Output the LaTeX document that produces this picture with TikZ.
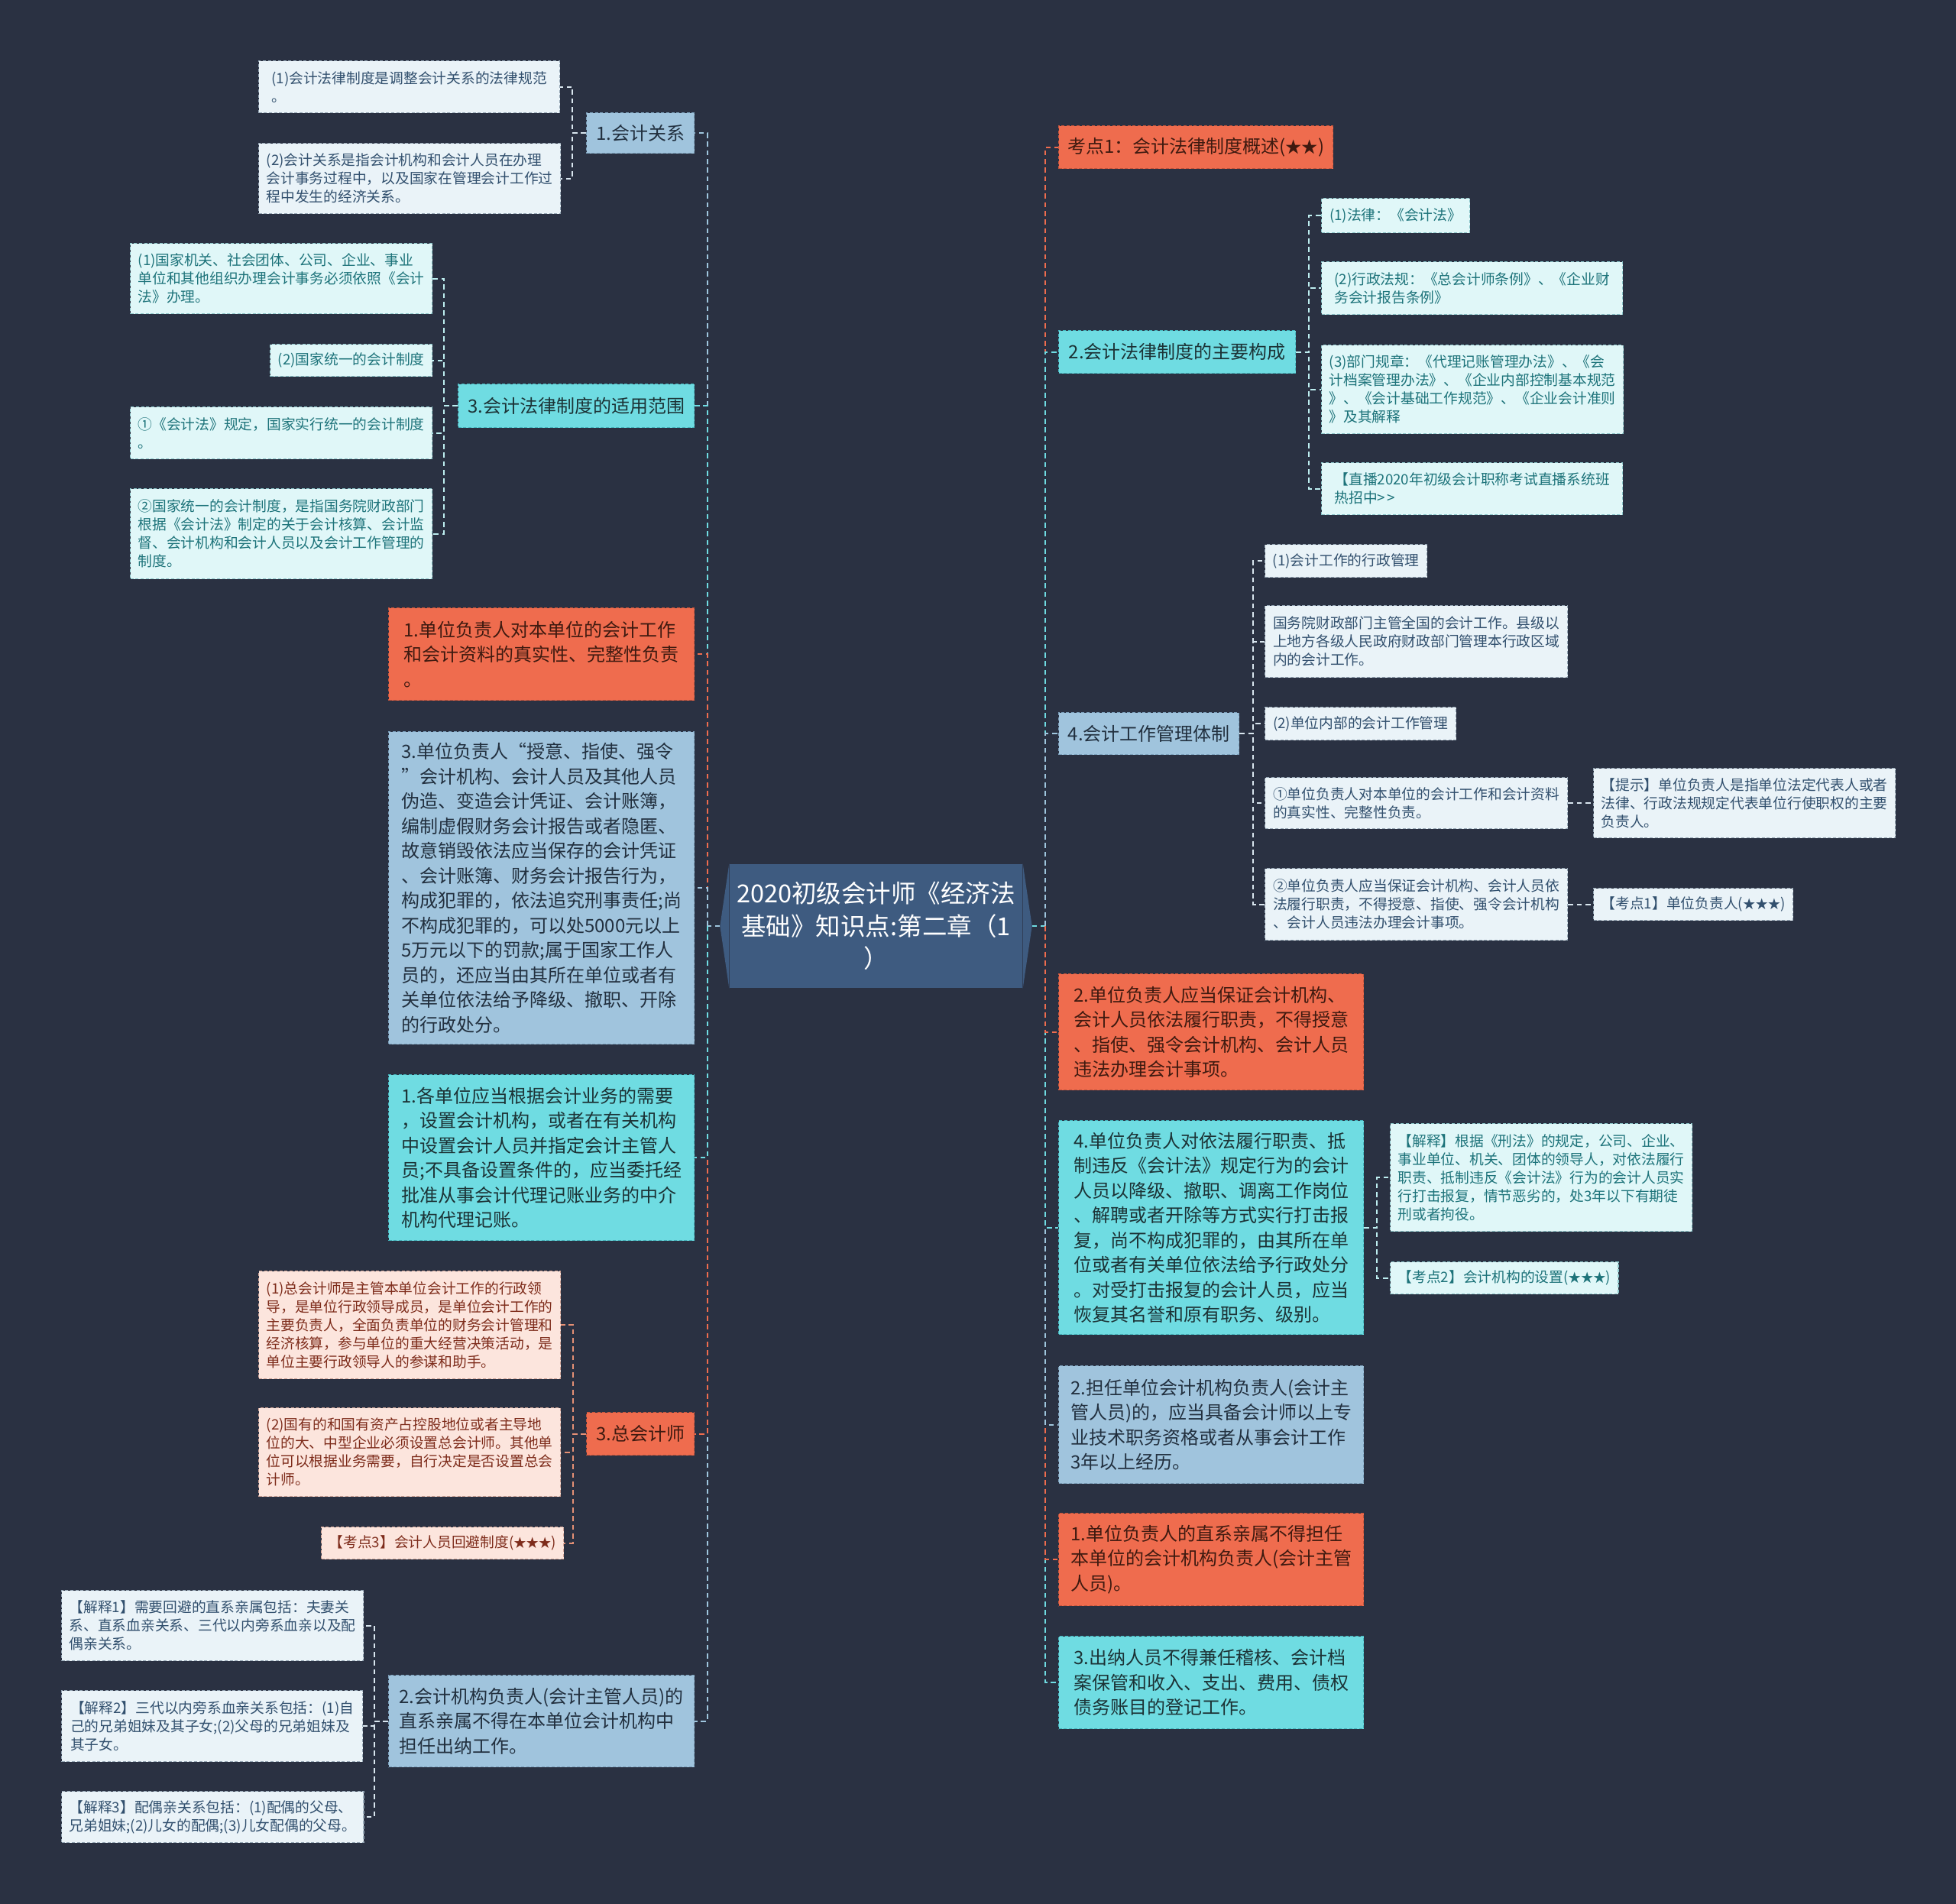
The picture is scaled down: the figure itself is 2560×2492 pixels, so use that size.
\documentclass[tikz,border=0pt]{standalone}
\usepackage{fontspec}
\setmainfont{Noto Sans CJK SC}
\definecolor{bg}{HTML}{2A3142}
\definecolor{cOr}{HTML}{EF6C4E}
\definecolor{cOrB}{HTML}{C4553C}
\definecolor{tOr}{HTML}{3F1A10}
\definecolor{cBl}{HTML}{A0C4DD}
\definecolor{cBlB}{HTML}{7B9FBA}
\definecolor{tBl}{HTML}{22303F}
\definecolor{cCy}{HTML}{6FDCE2}
\definecolor{cCyB}{HTML}{45B5BD}
\definecolor{tCy}{HTML}{1C3336}
\definecolor{cCt}{HTML}{3E5B80}
\definecolor{lBl}{HTML}{EAF3F8}
\definecolor{lBlB}{HTML}{95A6B5}
\definecolor{tlBl}{HTML}{32506E}
\definecolor{lCy}{HTML}{E0F7F8}
\definecolor{lCyB}{HTML}{8CC6CA}
\definecolor{tlCy}{HTML}{1D737A}
\definecolor{lPe}{HTML}{FCE5DD}
\definecolor{lPeB}{HTML}{CFA295}
\definecolor{tlPe}{HTML}{7E2C1B}
\definecolor{kBl}{HTML}{9FC6DE}
\definecolor{kCy}{HTML}{6FDCE2}
\definecolor{kOr}{HTML}{EF6C4E}
\definecolor{kLB}{HTML}{D9E6EF}
\definecolor{kLC}{HTML}{BDEEF0}
\definecolor{kPe}{HTML}{E59075}
\newcommand{\stars}[1]{{\fontsize{4.9pt}{7.2pt}\selectfont #1}}
\tikzset{
  bx/.style n args={4}{anchor=north west, at={(#1,#2)},
    minimum width={(#3-#1)*0.3pt}, minimum height={(#4-#2)*0.3pt}},
  base/.style={draw, dash pattern=on 1.2pt off 0.8pt, line width=0.4pt,
    inner xsep=3pt, inner ysep=1pt, align=left},
  lvl/.style={base, font=\fontsize{7.2pt}{9.75pt}\selectfont},
  sm/.style={base, font=\fontsize{5.625pt}{7.2pt}\selectfont},
  nOr/.style={lvl, fill=cOr, draw=cOrB, text=tOr},
  nBl/.style={lvl, fill=cBl, draw=cBlB, text=tBl},
  nCy/.style={lvl, fill=cCy, draw=cCyB, text=tCy},
  sBl/.style={sm, fill=lBl, draw=lBlB, text=tlBl},
  sCy/.style={sm, fill=lCy, draw=lCyB, text=tlCy},
  sPe/.style={sm, fill=lPe, draw=lPeB, text=tlPe},
  conn/.style={line width=0.6pt, dash pattern=on 2pt off 1.4pt}
}
\begin{document}
\begin{tikzpicture}[x=0.3pt,y=-0.3pt]
\fill[bg] (0,0) rectangle (2560,2492);
\useasboundingbox (0,0) rectangle (2560,2492);

% center
\node[fill=cCt, text=white, font=\fontsize{9.75pt}{12.75pt}\selectfont, align=center,
  minimum width=383*0.3pt, minimum height=162*0.3pt, inner sep=0pt] (c) at (1146.5,1212)
  {2020初级会计师《经济法\\基础》知识点:第二章（1\\）};
\coordinate (cl) at ([xshift=-3.6pt]c.west);
\coordinate (cr) at ([xshift=3.6pt]c.east);
\fill[cCt] (c.north west) -- (cl) -- (c.south west) -- cycle;
\fill[cCt] (c.north east) -- (cr) -- (c.south east) -- cycle;
\coordinate (tl) at (926,1212);
\coordinate (tr) at (1368,1212);

% left level 1
\node[nBl, bx={767}{147}{908}{200}] (L1) {1.会计关系};
\node[sBl, bx={338}{79}{732}{147}] (L1a) {(1)会计法律制度是调整会计关系的法律规范\\。};
\node[sBl, bx={338}{187}{732}{279}] (L1b) {(2)会计关系是指会计机构和会计人员在办理\\会计事务过程中，以及国家在管理会计工作过\\程中发生的经济关系。};

\node[nCy, bx={599}{502}{908}{559}] (L2) {3.会计法律制度的适用范围};
\node[sCy, bx={170}{318}{565}{410}] (L2a) {(1)国家机关、社会团体、公司、企业、事业\\单位和其他组织办理会计事务必须依照《会计\\法》办理。};
\node[sCy, bx={353}{450}{565}{492}] (L2b) {(2)国家统一的会计制度};
\node[sCy, bx={170}{532}{565}{600}] (L2c) {①《会计法》规定，国家实行统一的会计制度\\。};
\node[sCy, bx={170}{639}{565}{757}] (L2d) {②国家统一的会计制度，是指国务院财政部门\\根据《会计法》制定的关于会计核算、会计监\\督、会计机构和会计人员以及会计工作管理的\\制度。};

\node[nOr, bx={508}{795}{908}{916}] (L3) {1.单位负责人对本单位的会计工作\\和会计资料的真实性、完整性负责\\。};
\node[nBl, bx={508}{957}{908}{1366}] (L4) {3.单位负责人“授意、指使、强令\\”会计机构、会计人员及其他人员\\伪造、变造会计凭证、会计账簿，\\编制虚假财务会计报告或者隐匿、\\故意销毁依法应当保存的会计凭证\\、会计账簿、财务会计报告行为，\\构成犯罪的，依法追究刑事责任;尚\\不构成犯罪的，可以处5000元以上\\5万元以下的罚款;属于国家工作人\\员的，还应当由其所在单位或者有\\关单位依法给予降级、撤职、开除\\的行政处分。};
\node[nCy, bx={508}{1406}{908}{1623}] (L5) {1.各单位应当根据会计业务的需要\\，设置会计机构，或者在有关机构\\中设置会计人员并指定会计主管人\\员;不具备设置条件的，应当委托经\\批准从事会计代理记账业务的中介\\机构代理记账。};

\node[nOr, bx={767}{1848}{908}{1904}] (L6) {3.总会计师};
\node[sPe, bx={338}{1663}{732}{1804}] (L6a) {(1)总会计师是主管本单位会计工作的行政领\\导，是单位行政领导成员，是单位会计工作的\\主要负责人，全面负责单位的财务会计管理和\\经济核算，参与单位的重大经营决策活动，是\\单位主要行政领导人的参谋和助手。};
\node[sPe, bx={338}{1842}{732}{1958}] (L6b) {(2)国有的和国有资产占控股地位或者主导地\\位的大、中型企业必须设置总会计师。其他单\\位可以根据业务需要，自行决定是否设置总会\\计师。};
\node[sPe, bx={420}{1998}{732}{2040}] (L6c) {【考点3】会计人员回避制度(\stars{★★★})};

\node[nBl, bx={508}{2192}{908}{2312}] (L7) {2.会计机构负责人(会计主管人员)的\\直系亲属不得在本单位会计机构中\\担任出纳工作。};
\node[sBl, bx={80}{2081}{474}{2173}] (L7a) {【解释1】需要回避的直系亲属包括：夫妻关\\系、直系血亲关系、三代以内旁系血亲以及配\\偶亲关系。};
\node[sBl, bx={80}{2212}{474}{2305}] (L7b) {【解释2】三代以内旁系血亲关系包括：(1)自\\己的兄弟姐妹及其子女;(2)父母的兄弟姐妹及\\其子女。};
\node[sBl, bx={80}{2344}{474}{2411}] (L7c) {【解释3】配偶亲关系包括：(1)配偶的父母、\\兄弟姐妹;(2)儿女的配偶;(3)儿女配偶的父母。};

% right level 1
\node[nOr, bx={1385}{164}{1744}{220}] (R1) {考点1：会计法律制度概述(\stars{\fontsize{6.4pt}{9.75pt}\selectfont ★★})};
\node[nCy, bx={1385}{432}{1695}{488}] (R2) {2.会计法律制度的主要构成};
\node[sCy, bx={1729}{259}{1923}{304}] (R2a) {(1)法律：《会计法》};
\node[sCy, bx={1729}{342}{2123}{411}] (R2b) {(2)行政法规：《总会计师条例》、《企业财\\务会计报告条例》};
\node[sCy, bx={1729}{451}{2123}{567}] (R2c) {(3)部门规章：《代理记账管理办法》、《会\\计档案管理办法》、《企业内部控制基本规范\\》、《会计基础工作规范》、《企业会计准则\\》及其解释};
\node[sCy, bx={1729}{605}{2123}{673}] (R2d) {【直播2020年初级会计职称考试直播系统班\\热招中>\kern0.6pt>};

\node[nBl, bx={1385}{932}{1621}{987}] (R3) {4.会计工作管理体制};
\node[sBl, bx={1655}{712}{1866}{755}] (R3a) {(1)会计工作的行政管理};
\node[sBl, bx={1655}{792}{2051}{886}] (R3b) {国务院财政部门主管全国的会计工作。县级以\\上地方各级人民政府财政部门管理本行政区域\\内的会计工作。};
\node[sBl, bx={1655}{925}{1905}{968}] (R3c) {(2)单位内部的会计工作管理};
\node[sBl, bx={1655}{1017}{2051}{1084}] (R3d) {①单位负责人对本单位的会计工作和会计资料\\的真实性、完整性负责。};
\node[sBl, bx={2085}{1005}{2480}{1096}] (R3d1) {【提示】单位负责人是指单位法定代表人或者\\法律、行政法规规定代表单位行使职权的主要\\负责人。};
\node[sBl, bx={1655}{1136}{2051}{1230}] (R3e) {②单位负责人应当保证会计机构、会计人员依\\法履行职责，不得授意、指使、强令会计机构\\、会计人员违法办理会计事项。};
\node[sBl, bx={2085}{1162}{2343}{1204}] (R3e1) {【考点1】单位负责人(\stars{★★★})};

\node[nOr, bx={1385}{1274}{1784}{1426}] (R4) {2.单位负责人应当保证会计机构、\\会计人员依法履行职责，不得授意\\、指使、强令会计机构、会计人员\\违法办理会计事项。};
\node[nCy, bx={1385}{1466}{1784}{1746}] (R5) {4.单位负责人对依法履行职责、抵\\制违反《会计法》规定行为的会计\\人员以降级、撤职、调离工作岗位\\、解聘或者开除等方式实行打击报\\复，尚不构成犯罪的，由其所在单\\位或者有关单位依法给予行政处分\\。对受打击报复的会计人员，应当\\恢复其名誉和原有职务、级别。};
\node[sCy, bx={1819}{1470}{2213}{1611}] (R5a) {【解释】根据《刑法》的规定，公司、企业、\\事业单位、机关、团体的领导人，对依法履行\\职责、抵制违反《会计法》行为的会计人员实\\行打击报复，情节恶劣的，处3年以下有期徒\\刑或者拘役。};
\node[sCy, bx={1819}{1651}{2114}{1693}] (R5b) {【考点2】会计机构的设置(\stars{★★★})};
\node[nBl, bx={1385}{1787}{1784}{1941}] (R6) {2.担任单位会计机构负责人(会计主\\管人员)的，应当具备会计师以上专\\业技术职务资格或者从事会计工作\\3年以上经历。};
\node[nOr, bx={1385}{1980}{1784}{2101}] (R7) {1.单位负责人的直系亲属不得担任\\本单位的会计机构负责人(会计主管\\人员)。};
\node[nCy, bx={1385}{2141}{1784}{2262}] (R8) {3.出纳人员不得兼任稽核、会计档\\案保管和收入、支出、费用、债权\\债务账目的登记工作。};

% branch x coordinates
\coordinate (bL1) at (749,0);
\coordinate (bL2) at (581,0);
\coordinate (bL6) at (750,0);
\coordinate (bL7) at (490,0);
\coordinate (bR2) at (1713,0);
\coordinate (bR3) at (1640,0);
\coordinate (bR5) at (1802,0);

% main connectors left
\draw[conn, kBl] (cl) -- (tl);
\draw[conn, kBl] (tl) |- (L1.east);
\draw[conn, kCy] (tl) |- (L2.east);
\draw[conn, kOr] (tl) |- (L3.east);
\draw[conn, kBl] (tl) |- (L4.east);
\draw[conn, kBl] (tl) |- (L7.east);
\draw[conn, kOr] (tl) |- (L6.east);
\draw[conn, kCy] (tl) |- (L5.east);
% main connectors right
\draw[conn, kCy] (cr) -- (tr);
\draw[conn, kOr] (tr) |- (R1.west);
\draw[conn, kCy] (tr) |- (R2.west);
\draw[conn, kBl] (tr) |- (R3.west);
\draw[conn, kCy] (tr) |- (R8.west);
\draw[conn, kOr] (tr) |- (R7.west);
\draw[conn, kBl] (tr) |- (R6.west);
\draw[conn, kCy] (tr) |- (R5.west);
\draw[conn, kOr] (tr) |- (R4.west);

% sub connectors
\foreach \ch in {L1a,L1b} \draw[conn, kLB] (L1.west) -- (L1.west -| bL1) |- (\ch.east);
\foreach \ch in {L2a,L2b,L2c,L2d} \draw[conn, kLC] (L2.west) -- (L2.west -| bL2) |- (\ch.east);
\foreach \ch in {L6a,L6b,L6c} \draw[conn, kPe] (L6.west) -- (L6.west -| bL6) |- (\ch.east);
\foreach \ch in {L7a,L7b,L7c} \draw[conn, kLB] (L7.west) -- (L7.west -| bL7) |- (\ch.east);
\foreach \ch in {R2a,R2b,R2c,R2d} \draw[conn, kLC] (R2.east) -- (R2.east -| bR2) |- (\ch.west);
\foreach \ch in {R3a,R3b,R3c,R3d,R3e} \draw[conn, kLB] (R3.east) -- (R3.east -| bR3) |- (\ch.west);
\foreach \ch in {R5a,R5b} \draw[conn, kLC] (R5.east) -- (R5.east -| bR5) |- (\ch.west);
\draw[conn, kLB] (R3d.east) -- (R3d1.west);
\draw[conn, kLB] (R3e.east) -- (R3e1.west);
\end{tikzpicture}
\end{document}
